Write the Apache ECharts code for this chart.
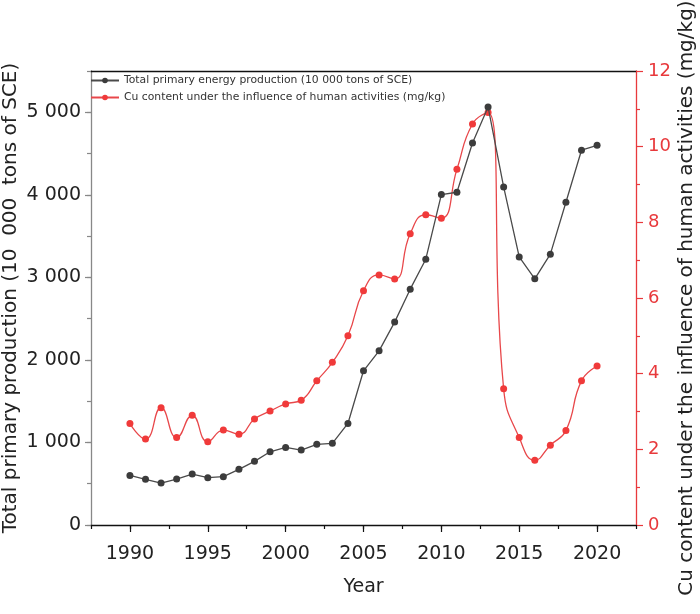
<!DOCTYPE html>
<html><head><meta charset="utf-8">
<script src="https://cdn.jsdelivr.net/npm/echarts@6/dist/echarts.min.js"></script>
<style>html,body{margin:0;padding:0;background:#fff}#c{width:700px;height:614px}</style>
</head><body><div id="c"></div>
<script>
const years = [1990,1991,1992,1993,1994,1995,1996,1997,1998,1999,2000,2001,2002,2003,2004,2005,2006,2007,2008,2009,2010,2011,2012,2013,2014,2015,2016,2017,2018,2019,2020];
const energy = [600,553,508,557,617,573,585,674,771,887,940,908,977,989,1230,1868,2110,2458,2857,3220,4003,4031,4628,5064,4096,3248,2982,3281,3910,4540,4600];
const cu = [2.68,2.27,3.10,2.31,2.90,2.20,2.51,2.40,2.80,3.01,3.20,3.30,3.81,4.30,5.00,6.19,6.61,6.50,7.70,8.20,8.11,9.40,10.60,10.90,3.60,2.31,1.71,2.11,2.50,3.81,4.20];
const xTickLabels = [1990,1995,2000,2005,2010,2015,2020];
const leftTickLabels = ['0','1 000','2 000','3 000','4 000','5 000'];
const rightTickLabels = ['0','2','4','6','8','10','12'];
const seriesNames = ['Total primary energy production (10 000 tons of SCE)','Cu content under the influence of human activities (mg/kg)'];
const xName = 'Year';
const leftName = 'Total primary production (10  000  tons of SCE)';
const rightName = 'Cu content under the influence of human activities (mg/kg)';

const font = '"DejaVu Sans", "Liberation Sans", Arial, sans-serif';
const RED = '#e8393c';
const chart = echarts.init(document.getElementById('c'), null, {renderer:'canvas'});
const energyData = years.map((y,i)=>[y, energy[i]]);
const cuData = years.map((y,i)=>[y, cu[i]]);

chart.setOption({
  animation:false,
  backgroundColor:'#fff',
  grid:{left:91,right:64,top:71,bottom:89,containLabel:false,outerBoundsMode:'none'},
  legend:{
    orient:'vertical', left:85, top:70, itemWidth:28, itemHeight:7, itemGap:6,
    data:[seriesNames[0], seriesNames[1]],
    textStyle:{fontSize:10.8,color:'#333',fontFamily:font}
  },
  xAxis:[
    {type:'value',min:1987.5,max:2022.5,splitNumber:7,position:'bottom',
     name:xName,nameLocation:'middle',nameGap:53,nameMoveOverlap:false,
     nameTextStyle:{fontSize:19,color:'#222',fontFamily:font},
     axisLine:{show:true,onZero:false,lineStyle:{color:'#111',width:1.3}},
     axisTick:{show:true,length:7,lineStyle:{color:'#111',width:1.2}},
     axisLabel:{margin:20,fontSize:19,color:'#222',fontFamily:font,showMinLabel:false,showMaxLabel:false,
       formatter:v=> xTickLabels.indexOf(v)>=0 ? String(v) : ''},
     splitLine:{show:false}},
    {type:'value',min:1987.5,max:2022.5,interval:2.5,position:'bottom',
     axisLine:{show:false,onZero:false},axisTick:{show:true,length:4,lineStyle:{color:'#111',width:1.2}},
     axisLabel:{show:false},splitLine:{show:false}},
    {type:'value',min:1987.5,max:2022.5,position:'top',
     axisLine:{show:true,onZero:false,lineStyle:{color:'#111',width:1.3}},axisTick:{show:false},
     axisLabel:{show:false},splitLine:{show:false}}
  ],
  yAxis:[
    {type:'value',min:0,max:5500,interval:1000,position:'left',
     name:leftName,nameLocation:'middle',nameGap:70,nameMoveOverlap:false,
     nameTextStyle:{fontSize:20,color:'#222',fontFamily:font},
     axisLine:{show:true,onZero:false,lineStyle:{color:'#888',width:1.3}},
     axisTick:{show:true,length:6,lineStyle:{color:'#888',width:1.2}},
     axisLabel:{margin:10,fontSize:19,color:'#222',fontFamily:font,showMaxLabel:false,
       formatter:v=> (v%1000===0 && v/1000 < leftTickLabels.length) ? leftTickLabels[v/1000] : ''},
     splitLine:{show:false}},
    {type:'value',min:0,max:5500,interval:500,position:'left',
     axisLine:{show:false,onZero:false},axisTick:{show:true,length:4,lineStyle:{color:'#888',width:1.2}},
     axisLabel:{show:false},splitLine:{show:false}},
    {type:'value',min:0,max:12,interval:2,position:'right',
     name:rightName,nameLocation:'middle',nameGap:41,nameMoveOverlap:false,
     nameTextStyle:{fontSize:20,color:'#222',fontFamily:font},
     axisLine:{show:true,onZero:false,lineStyle:{color:RED,width:1.3}},
     axisTick:{show:true,length:7,lineStyle:{color:RED,width:1.2}},
     minorTick:{show:true,splitNumber:2,length:4,lineStyle:{color:RED,width:1.2}},
     axisLabel:{margin:12,fontSize:18,color:RED,fontFamily:font,
       formatter:v=> rightTickLabels[v/2] || ''},
     splitLine:{show:false},minorSplitLine:{show:false}}
  ],
  series:[
    {name:seriesNames[0],type:'line',xAxisIndex:0,yAxisIndex:0,data:energyData,
     symbol:'circle',symbolSize:7,showSymbol:true,smooth:false,
     lineStyle:{color:'#4a4a4a',width:1.3},itemStyle:{color:'#3c3c3c'},z:3},
    {name:seriesNames[1],type:'line',xAxisIndex:0,yAxisIndex:2,data:cuData,
     symbol:'circle',symbolSize:7,showSymbol:true,smooth:0.5,
     lineStyle:{color:'#e8474a',width:1.3},itemStyle:{color:'#f03a3a'},z:2}
  ]
});
</script></body></html>
